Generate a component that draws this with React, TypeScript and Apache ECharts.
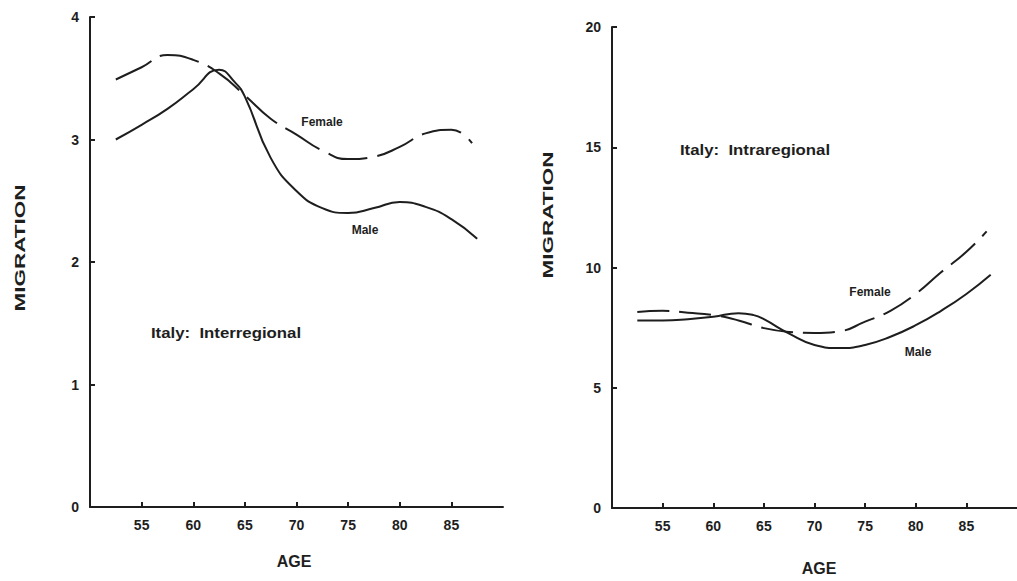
import React, { useEffect, useRef } from "react";
import * as echarts from "echarts";

// Interregional (left panel)
const interMaleAges = [52.5, 55, 57.5, 60, 62.5, 64, 65, 67.5, 70, 72.5, 75, 77.5, 80, 82.5, 85, 87.5];
const interMale = [3.0, 3.12, 3.25, 3.41, 3.57, 3.47, 3.35, 2.85, 2.58, 2.44, 2.4, 2.44, 2.49, 2.45, 2.35, 2.19];
const interFemaleAges = [52.5, 55, 57.5, 60, 62.5, 65, 67.5, 70, 72.5, 75, 77.5, 80, 82.5, 85, 87];
const interFemale = [3.49, 3.59, 3.69, 3.65, 3.54, 3.36, 3.17, 3.04, 2.91, 2.84, 2.86, 2.94, 3.05, 3.08, 2.97];

// Intraregional (right panel)
const intraMaleAges = [52.5, 55, 57.5, 60, 62.5, 64, 65, 67.5, 70, 72.5, 75, 77.5, 80, 82.5, 85, 87.4];
const intraMale = [7.8, 7.8, 7.85, 7.95, 8.1, 8.02, 7.85, 7.25, 6.78, 6.65, 6.78, 7.12, 7.6, 8.2, 8.9, 9.7];
const intraFemaleAges = [52.5, 55, 57.5, 60, 62.5, 65, 67.5, 70, 72.5, 75, 77.5, 80, 82.5, 85, 87];
const intraFemale = [8.15, 8.2, 8.12, 8.02, 7.8, 7.48, 7.32, 7.28, 7.35, 7.75, 8.2, 8.9, 9.8, 10.65, 11.5];

const ageRange = [50, 90];
const interRange = [0, 4];
const intraRange = [0, 20];

const INK = "#1e1e1e";
const FONT = "'Liberation Sans', Arial, Helvetica, sans-serif";

const pairs = (xs: number[], ys: number[]) => xs.map((x, i) => [x, ys[i]]);

function xAxisCfg(gridIndex: number) {
  return {
    type: "value",
    gridIndex,
    min: ageRange[0],
    max: ageRange[1],
    interval: 5,
    axisLine: { show: true, lineStyle: { color: INK, width: 2 } },
    axisTick: { show: true, inside: true, length: 5, lineStyle: { color: INK, width: 2 } },
    axisLabel: {
      showMinLabel: false,
      showMaxLabel: false,
      color: INK,
      fontSize: 14,
      fontWeight: "bold",
      fontFamily: FONT,
      margin: 11,
    },
    splitLine: { show: false },
  };
}

function yAxisCfg(gridIndex: number, min: number, max: number, interval: number) {
  return {
    type: "value",
    gridIndex,
    min,
    max,
    interval,
    axisLine: { show: true, lineStyle: { color: INK, width: 2 } },
    axisTick: { show: true, inside: true, length: 5, lineStyle: { color: INK, width: 2 } },
    axisLabel: {
      color: INK,
      fontSize: 14,
      fontWeight: "bold",
      fontFamily: FONT,
      margin: 11,
    },
    splitLine: { show: false },
  };
}

function lineSeries(name: string, idx: number, data: number[][], dash: any) {
  return {
    name,
    type: "line",
    xAxisIndex: idx,
    yAxisIndex: idx,
    data,
    smooth: true,
    symbol: "none",
    lineStyle: { color: INK, width: 2, type: dash },
    z: 3,
  };
}

function txt(text: string, x: number, y: number, fontSize: number, extra: any = {}) {
  return {
    type: "text",
    x,
    y,
    ...extra,
    style: {
      text,
      fill: INK,
      fontSize,
      fontWeight: "bold",
      fontFamily: FONT,
      align: "center",
      verticalAlign: "middle",
    },
  };
}

export default function App() {
  const ref = useRef<HTMLDivElement>(null);
  useEffect(() => {
    const chart = echarts.init(ref.current!, null, { renderer: "svg" });
    chart.setOption({
      animation: false,
      backgroundColor: "#ffffff",
      grid: [
        { left: 90, top: 17, width: 413, height: 490 },
        { left: 612, top: 27, width: 407, height: 481 },
      ],
      xAxis: [xAxisCfg(0), xAxisCfg(1)],
      yAxis: [
        yAxisCfg(0, interRange[0], interRange[1], 1),
        yAxisCfg(1, intraRange[0], intraRange[1], 5),
      ],
      series: [
        lineSeries("Male", 0, pairs(interMaleAges, interMale), "solid"),
        lineSeries("Female", 0, pairs(interFemaleAges, interFemale), [40, 10]),
        lineSeries("Male", 1, pairs(intraMaleAges, intraMale), "solid"),
        lineSeries("Female", 1, pairs(intraFemaleAges, intraFemale), [32, 10]),
      ],
      graphic: [
        txt("MIGRATION", 20, 248, 15, { rotation: Math.PI / 2, scaleX: 1.5 }),
        txt("MIGRATION", 548, 215, 15, { rotation: Math.PI / 2, scaleX: 1.5 }),
        txt("AGE", 294, 561, 16),
        txt("AGE", 819, 568, 16),
        txt("Italy:  Interregional", 226, 333, 15, { scaleX: 1.12 }),
        txt("Italy:  Intraregional", 755, 150, 15, { scaleX: 1.12 }),
        txt("Female", 322, 122, 12),
        txt("Male", 365, 230, 12),
        txt("Female", 870, 292, 12),
        txt("Male", 918, 352, 12),
      ],
    });
    return () => chart.dispose();
  }, []);
  return (
    <div
      ref={ref}
      style={{ position: "absolute", left: 0, top: 0, width: 1017, height: 581, background: "#fff" }}
    />
  );
}
